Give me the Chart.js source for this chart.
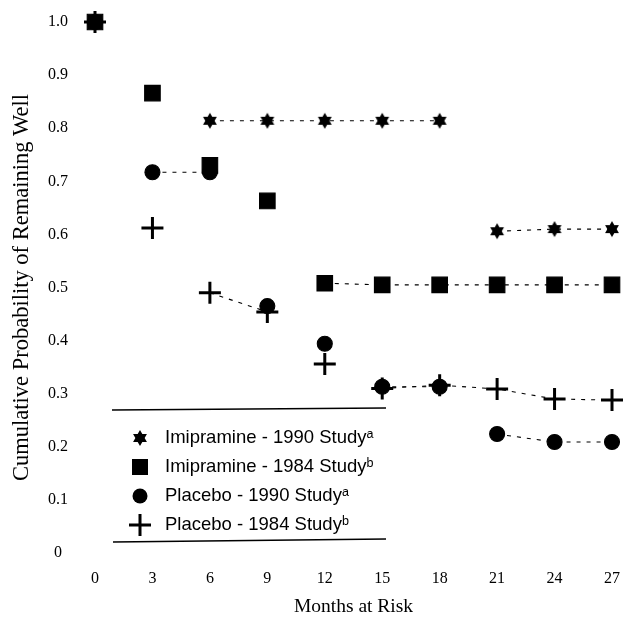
<!DOCTYPE html>
<html>
<head>
<meta charset="utf-8">
<script src="https://cdn.jsdelivr.net/npm/chart.js@4.4.0/dist/chart.umd.min.js"></script>
<style>
  html, body { margin: 0; padding: 0; background: #fff; }
  #wrap { width: 634px; height: 625px; }
</style>
</head>
<body>
<div id="wrap"><canvas id="chart" width="634" height="625"></canvas></div>
<script>
// months at risk (x axis)
const months = [0, 3, 6, 9, 12, 15, 18, 21, 24, 27];

// cumulative probability of remaining well
const imipramine1990 = [1.0, 1.01, 0.814, 0.814, 0.814, 0.814, 0.814, 0.606, 0.61, 0.61];
const imipramine1984 = [1.0, 0.866, 0.73, 0.663, 0.508, 0.505, 0.505, 0.505, 0.505, 0.505];
const placebo1990 = [1.0, 0.717, 0.717, 0.465, 0.394, 0.313, 0.313, 0.224, 0.209, 0.209];
const placebo1984 = [1.0, 0.612, 0.49, 0.454, 0.356, 0.31, 0.316, 0.309, 0.29, 0.288];

const seriesLabels = [
  'Imipramine - 1990 Study\u1d43',
  'Imipramine - 1984 Study\u1d47',
  'Placebo - 1990 Study\u1d43',
  'Placebo - 1984 Study\u1d47'
];

// filled six point star used as the point style of the first series
function makeStar(r) {
  const c = document.createElement('canvas');
  c.width = c.height = r * 2 + 2;
  const g = c.getContext('2d');
  g.fillStyle = '#000';
  g.beginPath();
  for (let i = 0; i < 12; i++) {
    const a = Math.PI / 6 * i - Math.PI / 2;
    const rad = i % 2 === 0 ? r : r * 0.58;
    g.lineTo(r + 1 + Math.cos(a) * rad, r + 1 + Math.sin(a) * rad);
  }
  g.closePath();
  g.fill();
  return c;
}
const starImg = makeStar(8);

const toPoints = (vals) => vals.map((v, i) => ({ x: months[i], y: v }));

// only the nearly flat steps get a connecting dashed line
const flatSegment = (ctx) =>
  ctx.p0DataIndex > 0 && Math.abs(ctx.p0.parsed.y - ctx.p1.parsed.y) < 0.04 ? '#000' : 'rgba(0,0,0,0)';

function series(label, vals, style) {
  return Object.assign({
    label: label,
    data: toPoints(vals),
    borderColor: '#000',
    backgroundColor: '#000',
    borderWidth: 1.1,
    borderDash: [4, 6],
    pointBorderColor: '#000',
    pointBackgroundColor: '#000',
    clip: false,
    segment: { borderColor: flatSegment }
  }, style);
}

const legendBox = {
  id: 'legendBox',
  afterDraw(chart) {
    const ctx = chart.ctx;
    ctx.save();
    ctx.strokeStyle = '#000';
    ctx.lineWidth = 1.5;
    ctx.beginPath();
    ctx.moveTo(112, 410); ctx.lineTo(386, 408);
    ctx.moveTo(113, 542); ctx.lineTo(386, 539);
    ctx.stroke();

    const rows = [438, 467, 496, 525];
    const sx = 140;
    ctx.fillStyle = '#000';
    ctx.font = '18.5px "Liberation Sans", Arial, sans-serif';
    ctx.textBaseline = 'middle';
    chart.data.datasets.forEach((ds, i) => {
      const y = rows[i];
      if (i === 0) {
        ctx.drawImage(starImg, sx - starImg.width / 2, y - starImg.height / 2);
      } else if (i === 1) {
        ctx.fillRect(sx - 8, y - 8, 16, 16);
      } else if (i === 2) {
        ctx.beginPath();
        ctx.arc(sx, y, 7.5, 0, Math.PI * 2);
        ctx.fill();
      } else {
        ctx.lineWidth = 3;
        ctx.beginPath();
        ctx.moveTo(sx - 11, y); ctx.lineTo(sx + 11, y);
        ctx.moveTo(sx, y - 11); ctx.lineTo(sx, y + 11);
        ctx.stroke();
      }
      ctx.fillText(ds.label, 165, y);
    });
    ctx.restore();
  }
};

const serif = '"Liberation Serif", "Times New Roman", serif';

new Chart(document.getElementById('chart'), {
  type: 'line',
  data: {
    datasets: [
      series(seriesLabels[0], imipramine1990, { pointStyle: starImg }),
      series(seriesLabels[1], imipramine1984, { pointStyle: 'rect', pointRadius: 11 }),
      series(seriesLabels[2], placebo1990, { pointStyle: 'circle', pointRadius: 7.5 }),
      series(seriesLabels[3], placebo1984, { pointStyle: 'cross', pointRadius: 11, pointBorderWidth: 3 })
    ]
  },
  options: {
    responsive: false,
    animation: false,
    layout: { padding: { top: 22, right: 22, bottom: 2, left: 0 } },
    plugins: {
      legend: { display: false },
      tooltip: { enabled: false }
    },
    scales: {
      x: {
        type: 'linear',
        min: 0,
        max: 27,
        grid: { display: false },
        border: { display: false },
        afterFit: (scale) => { scale.height = 70; },
        ticks: {
          stepSize: 3,
          padding: 8,
          color: '#000',
          font: { family: serif, size: 16 }
        },
        title: {
          display: true,
          text: 'Months at Risk',
          color: '#000',
          padding: { top: 4, bottom: 4 },
          font: { family: serif, size: 19.5 }
        }
      },
      y: {
        min: 0,
        max: 1.0,
        grid: { display: false },
        border: { display: false },
        afterFit: (scale) => {
          scale.width = 95;
          scale.paddingTop = 0;
          scale.paddingBottom = 0;
        },
        ticks: {
          stepSize: 0.1,
          padding: 19,
          crossAlign: 'center',
          color: '#000',
          font: { family: serif, size: 16 },
          callback: (v) => (v === 0 ? '0' : v.toFixed(1))
        },
        title: {
          display: true,
          text: 'Cumulative Probability of Remaining Well',
          color: '#000',
          padding: { top: 9, bottom: 0 },
          font: { family: serif, size: 22.5 }
        }
      }
    }
  },
  plugins: [legendBox]
});
</script>
</body>
</html>
